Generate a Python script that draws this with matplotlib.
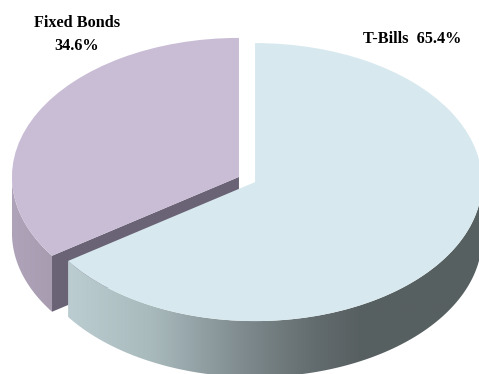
import numpy as np
import matplotlib
matplotlib.use('Agg')
import matplotlib.pyplot as plt
from matplotlib.colors import LinearSegmentedColormap
from matplotlib.patches import Polygon

categories = ['T-Bills', 'Fixed Bonds']
shares = [65.4, 34.6]
explode = [0.04, 0.04]

top_colors = ['#d7e9ef', '#c9bdd6']
wall_ramps = [
    [(0.0, '#bccdd1'), (0.2, '#a9babd'), (0.42, '#7f8b8f'), (0.6, '#626b6d'), (0.7, '#586062'), (1.0, '#576061')],
    [(0.0, '#aea3b8'), (1.0, '#a89cb1')],
]
cut_color = '#6a6275'

# pie is 454 x 278 px on screen, squashed by the non-equal axes
WIDTH, HEIGHT = 479, 374
CX, CY = 247, 179.5
RX, RY = 227, 139
DEPTH = 56 / RY

fig = plt.figure(figsize=(WIDTH / 100, HEIGHT / 100), dpi=100)
ax = fig.add_axes([0, 0, 1, 1])

wedges, _ = ax.pie(shares, explode=explode, colors=top_colors, startangle=90,
                   counterclock=False, wedgeprops={'linewidth': 0})
for wedge in wedges:
    wedge.set_zorder(5)


def draw_wall(wedge, ramp, zorder):
    # outer rim, only the part that faces the viewer
    start = max(wedge.theta1, -180)
    stop = min(wedge.theta2, 0)
    t = np.radians(np.linspace(start, stop, 120))
    x = wedge.center[0] + np.cos(t)
    y = wedge.center[1] + np.sin(t)
    pts = np.vstack([np.column_stack([x, y]), np.column_stack([x, y - DEPTH])[::-1]])
    outline = Polygon(pts, closed=True, facecolor='none', edgecolor='none',
                      transform=ax.transData)
    ax.add_patch(outline)
    cmap = LinearSegmentedColormap.from_list('wall', ramp)
    img = ax.imshow(np.linspace(0, 1, 256).reshape(1, -1), cmap=cmap, aspect='auto',
                    extent=[x.min(), x.max(), y.min() - DEPTH, y.max()],
                    zorder=zorder, interpolation='bilinear')
    img.set_clip_path(outline)


def draw_cut(wedge, angle, color, zorder):
    # flat cut face running from the centre out to the rim
    cx, cy = wedge.center
    ex = cx + np.cos(np.radians(angle))
    ey = cy + np.sin(np.radians(angle))
    ax.add_patch(Polygon([(cx, cy), (ex, ey), (ex, ey - DEPTH), (cx, cy - DEPTH)],
                         closed=True, facecolor=color, edgecolor='none', zorder=zorder))


draw_wall(wedges[1], wall_ramps[1], 1)
draw_cut(wedges[1], wedges[1].theta2, cut_color, 2)
draw_wall(wedges[0], wall_ramps[0], 3)

ax.set_aspect('auto')
ax.set_xlim(-CX / RX, (WIDTH - CX) / RX)
ax.set_ylim(-(HEIGHT - CY) / RY, CY / RY)
ax.axis('off')

font = {'family': 'Liberation Serif', 'weight': 'bold', 'size': 11.7,
        'color': 'black', 'ha': 'center', 'va': 'center'}
fig.text(77 / WIDTH, 1 - 23 / HEIGHT, categories[1], **font)
fig.text(77 / WIDTH, 1 - 46 / HEIGHT, f'{shares[1]}%', **font)
fig.text(412 / WIDTH, 1 - 39 / HEIGHT, f'{categories[0]}  {shares[0]}%', **font)

fig.savefig('out.png', dpi=100)
